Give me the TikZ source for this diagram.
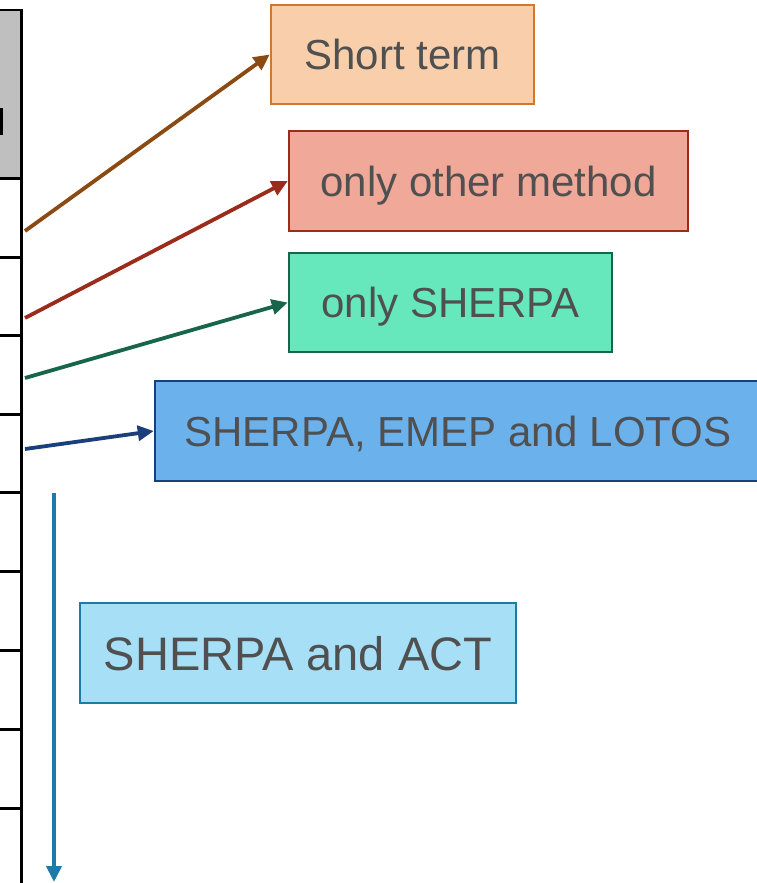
\documentclass[tikz,border=0pt]{standalone}
\usepackage{fontspec}
\setmainfont{Liberation Sans}
\usetikzlibrary{arrows.meta}

\definecolor{txtgray}{HTML}{505050}
\definecolor{cellgray}{HTML}{BFBFBF}
\definecolor{shortfill}{HTML}{F8CFAA}
\definecolor{shortline}{HTML}{D0782C}
\definecolor{shortarrow}{HTML}{8A4A12}
\definecolor{otherfill}{HTML}{F0A898}
\definecolor{otherline}{HTML}{9B2B1B}
\definecolor{sherpafill}{HTML}{66E8BC}
\definecolor{sherpaline}{HTML}{17664A}
\definecolor{emepfill}{HTML}{6BB1EC}
\definecolor{emepline}{HTML}{1B3F7A}
\definecolor{actfill}{HTML}{A6DFF6}
\definecolor{actline}{HTML}{1A7CA8}

\tikzset{
	methodbox/.style = {draw, rectangle, line width = 2.5pt, inner sep = 0pt,
		text = txtgray, text depth = 0pt, font = \fontsize{42}{50}\selectfont},
	methodarrow/.style = {line width = 3.8pt, -{Triangle[length = 16pt, width = 15pt]}}
}

\begin{document}
\begin{tikzpicture}[x = 1pt, y = -1pt]
	%	page setup
	\useasboundingbox (0, 0) rectangle (756, 883);
	
	\def\tx{21.5}
	\def\ttop{10}
	
	%	table
	\fill[cellgray] (0, \ttop) rectangle (\tx, 178);
	\fill[black] (0, 108) rectangle (2.5, 135);
	\draw[line width = 2pt] (0, \ttop) -- (\tx, \ttop);
	\foreach \y in {178, 257, 335, 414, 492, 571, 650, 729, 808}
		\draw[line width = 3pt] (0, \y) -- (\tx, \y);
	\draw[line width = 3pt] (\tx, \ttop - 1) -- (\tx, 883);
	
	%	boxes
	\node[methodbox, fill = shortfill, draw = shortline, minimum width = 263pt, minimum height = 99pt] (short) at (402.5, 54.5) {Short term};
	\node[methodbox, fill = otherfill, draw = otherline, minimum width = 399pt, minimum height = 100pt] (other) at (488.5, 181) {only other method};
	\node[methodbox, fill = sherpafill, draw = sherpaline, minimum width = 323pt, minimum height = 99pt] (sherpa) at (450.5, 302.5) {only SHERPA};
	\node[methodbox, fill = emepfill, draw = emepline, minimum width = 606pt, minimum height = 100pt] (emep) at (458, 431) {SHERPA, EMEP and LOTOS};
	\node[methodbox, fill = actfill, draw = actline, minimum width = 436pt, minimum height = 100pt, font = \fontsize{47}{56}\selectfont] (act) at (298, 653) {SHERPA and ACT};
	
	%	arrows
	\coordinate (rowA) at (25, 231);
	\coordinate (rowB) at (25, 318);
	\coordinate (rowC) at (25, 378);
	\coordinate (rowD) at (25, 449);
	\coordinate (restTop) at (54, 493);
	\coordinate (restEnd) at (54, 882);
	
	\draw[methodarrow, shortarrow] (rowA) -- (short.west);
	\draw[methodarrow, otherline] (rowB) -- (other.west);
	\draw[methodarrow, sherpaline] (rowC) -- (sherpa.west);
	\draw[methodarrow, emepline] (rowD) -- (emep.west);
	\draw[methodarrow, actline] (restTop) -- (restEnd);
\end{tikzpicture}
\end{document}
